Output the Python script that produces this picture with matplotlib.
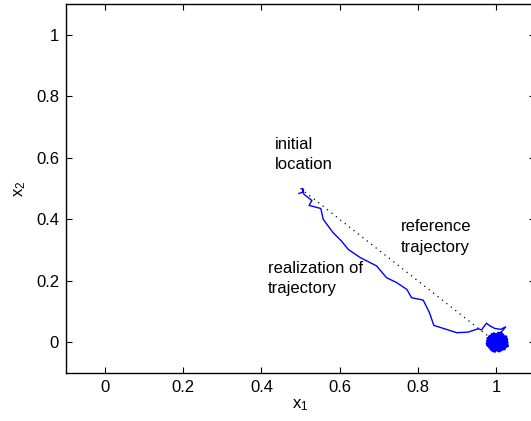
import matplotlib
matplotlib.use("Agg")
import matplotlib.pyplot as plt

plt.rcParams['font.family'] = ['Liberation Sans', 'DejaVu Sans']
plt.rcParams['font.size'] = 12

# reference trajectory (straight line from initial location to target)
ref_x = [0.5, 1.0]
ref_y = [0.5, 0.0]

# one realization of the trajectory
traj_x = [0.496, 0.504, 0.508, 0.504, 0.509, 0.529, 0.522, 0.552, 0.558, 0.583,
          0.605, 0.622, 0.652, 0.695, 0.720, 0.746, 0.772, 0.784, 0.814, 0.830,
          0.841, 0.900, 0.929, 0.955, 0.963, 0.976, 0.985, 0.997, 1.012, 1.025,
          1.015, 1.005]
traj_y = [0.484, 0.487, 0.497, 0.500, 0.481, 0.461, 0.445, 0.435, 0.400, 0.357,
          0.329, 0.302, 0.276, 0.248, 0.210, 0.194, 0.172, 0.145, 0.137, 0.096,
          0.055, 0.031, 0.033, 0.044, 0.040, 0.062, 0.053, 0.045, 0.042, 0.050,
          0.035, 0.028]

# jitter around the target point (1, 0)
cluster_x = [1.005, 0.980, 1.028, 0.986, 1.022, 0.978, 1.014, 1.030, 0.992, 0.982,
             1.026, 0.997, 0.977, 1.020, 1.006, 0.984, 1.029, 0.990, 1.012, 0.979,
             1.024, 1.000, 0.988, 1.027, 0.981, 1.008, 1.018, 0.983, 1.025, 0.995,
             1.004, 0.985, 1.021, 0.978, 1.016, 0.993, 1.028, 0.987, 1.010, 1.002]
cluster_y = [0.025, -0.010, 0.008, 0.020, -0.022, 0.004, 0.029, -0.012, -0.028, 0.014,
             0.018, -0.030, -0.004, -0.020, 0.030, -0.018, -0.002, 0.026, -0.026, 0.012,
             -0.014, 0.022, -0.024, 0.010, 0.000, -0.029, 0.024, 0.018, -0.006, 0.028,
             -0.022, -0.012, 0.016, -0.008, -0.024, 0.026, 0.004, -0.020, 0.020, 0.000]

ticks = [0, 0.2, 0.4, 0.6, 0.8, 1]
tick_labels = ['0', '0.2', '0.4', '0.6', '0.8', '1']

fig = plt.figure(figsize=(5.31, 4.21), dpi=100)
ax = fig.add_axes([66 / 531, 48 / 421, 469 / 531, 369 / 421])

ax.plot(ref_x, ref_y, color='black', linestyle=(0, (1, 3.5)), linewidth=0.9)
ax.plot(traj_x + cluster_x[:1], traj_y + cluster_y[:1], color='blue', linewidth=1.0)
ax.plot(cluster_x, cluster_y, color='blue', linewidth=2.0)

ax.text(0.435, 0.668, 'initial\nlocation', ha='left', va='top', linespacing=1.45)
ax.text(0.757, 0.400, 'reference\ntrajectory', ha='left', va='top', linespacing=1.45)
ax.text(0.417, 0.264, 'realization of\ntrajectory', ha='left', va='top', linespacing=1.45)

ax.set_xlim(-0.1, 1.1)
ax.set_ylim(-0.1, 1.1)
ax.set_xticks(ticks)
ax.set_xticklabels(tick_labels)
ax.set_yticks(ticks)
ax.set_yticklabels(tick_labels)
ax.tick_params(direction='in', length=4, width=0.8, top=True, right=True, pad=5)
for s in ax.spines.values():
    s.set_linewidth(1.0)

ax.set_xlabel(r'$\mathregular{x_1}$', labelpad=2)
ax.set_ylabel(r'$\mathregular{x_2}$', labelpad=6)

fig.savefig('out.png', dpi=100)
